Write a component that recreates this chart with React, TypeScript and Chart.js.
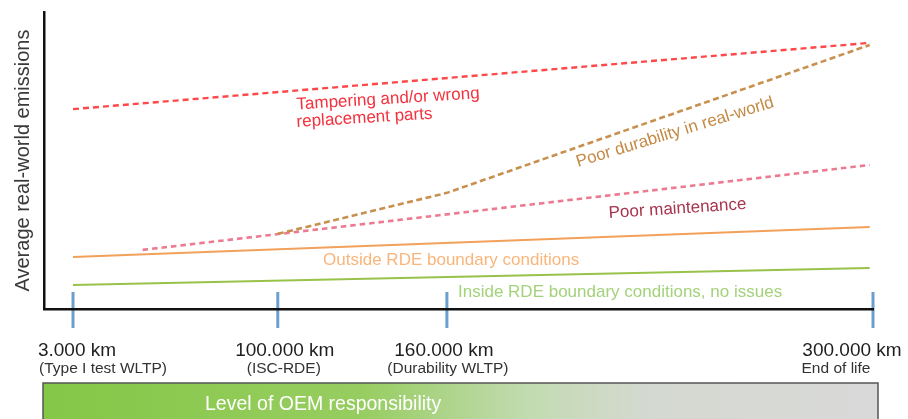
import React, { useEffect, useRef } from "react";
import { Chart, registerables } from "chart.js";

Chart.register(...registerables);

// ---------- data ----------
const yAxisTitle = "Average real-world emissions";
const milestoneLabels = ["3.000 km", "100.000 km", "160.000 km", "300.000 km"];
const milestoneNotes = ["(Type I test WLTP)", "(ISC-RDE)", "(Durability WLTP)", "End of life"];
// conceptual position of each milestone along the mileage axis (0-100)
const milestonePositions = [3.5, 28.2, 48.6, 100];

const insideRDE = [
  { x: 3.5, y: 8.1 },
  { x: 99.6, y: 13.8 },
];
const outsideRDE = [
  { x: 3.5, y: 17.5 },
  { x: 99.6, y: 27.6 },
];
const poorMaintenance = [
  { x: 11.9, y: 19.9 },
  { x: 99.6, y: 48.5 },
];
const poorDurability = [
  { x: 28.2, y: 25.3 },
  { x: 48.6, y: 39.1 },
  { x: 99.6, y: 88.9 },
];
const tampering = [
  { x: 3.5, y: 67.3 },
  { x: 99.6, y: 89.6 },
];

const annotationTexts = [
  "Tampering and/or wrong",
  "replacement parts",
  "Poor durability in real-world",
  "Poor maintenance",
  "Outside RDE boundary conditions",
  "Inside RDE boundary conditions, no issues",
];
// anchor of each annotation in data units (left end of baseline)
const annotationAnchors = [
  { x: 30.5, y: 67.2 },
  { x: 30.5, y: 61.3 },
  { x: 64.4, y: 47.8 },
  { x: 68.15, y: 30.6 },
  { x: 33.66, y: 14.8 },
  { x: 49.94, y: 4.04 },
];
const bannerText = "Level of OEM responsibility";

// ---------- styles ----------
const FONT = '"Liberation Sans", Arial, Helvetica, sans-serif';
const annotationStyles = [
  { color: "#f3323e", rot: -3.5 },
  { color: "#f3323e", rot: -3.5 },
  { color: "#c48a45", rot: -17 },
  { color: "#a8354f", rot: -3.8 },
  { color: "#f9b57a", rot: 0 },
  { color: "#a3d27a", rot: 0 },
];
// horizontal offsets (px) of label centers relative to their tick
const labelOffsets = [
  { main: 4, note: 30 },
  { main: 7, note: 6 },
  { main: -3, note: 1 },
  { main: -21, note: -37 },
];

const overlayPlugin = {
  id: "overlay",
  beforeDraw(chart: any) {
    const { ctx, chartArea } = chart;
    const xs = chart.scales.x;
    ctx.save();
    ctx.strokeStyle = "#6b9fcc";
    ctx.lineWidth = 3;
    milestonePositions.forEach((p) => {
      const px = xs.getPixelForValue(p);
      ctx.beginPath();
      ctx.moveTo(px, chartArea.bottom - 17);
      ctx.lineTo(px, chartArea.bottom + 19);
      ctx.stroke();
    });
    ctx.restore();
  },
  afterDraw(chart: any) {
    const { ctx, chartArea } = chart;
    const xs = chart.scales.x;
    const ys = chart.scales.y;
    ctx.save();

    // y axis title
    ctx.save();
    ctx.translate(chartArea.left - 15, (chartArea.top + chartArea.bottom) / 2);
    ctx.rotate(-Math.PI / 2);
    ctx.font = `20px ${FONT}`;
    ctx.fillStyle = "#3a3a3a";
    ctx.textAlign = "center";
    ctx.textBaseline = "alphabetic";
    ctx.fillText(yAxisTitle, 0, 0);
    ctx.restore();

    // annotations
    annotationTexts.forEach((t, i) => {
      const a = annotationAnchors[i];
      const s = annotationStyles[i];
      ctx.save();
      ctx.translate(xs.getPixelForValue(a.x), ys.getPixelForValue(a.y));
      ctx.rotate((s.rot * Math.PI) / 180);
      ctx.font = `17px ${FONT}`;
      ctx.fillStyle = s.color;
      ctx.textAlign = "left";
      ctx.textBaseline = "alphabetic";
      ctx.fillText(t, 0, 0);
      ctx.restore();
    });

    // milestone labels
    milestonePositions.forEach((p, i) => {
      const px = xs.getPixelForValue(p);
      ctx.textAlign = "center";
      ctx.textBaseline = "alphabetic";
      ctx.font = `19px ${FONT}`;
      ctx.fillStyle = "#1e1e1e";
      ctx.fillText(milestoneLabels[i], px + labelOffsets[i].main, chartArea.bottom + 47);
      ctx.font = `15.5px ${FONT}`;
      ctx.fillStyle = "#333333";
      ctx.fillText(milestoneNotes[i], px + labelOffsets[i].note, chartArea.bottom + 64);
    });

    // responsibility banner
    const bx0 = chartArea.left - 1;
    const bx1 = chartArea.right + 5;
    const by0 = chartArea.bottom + 74;
    const by1 = chart.height + 2;
    const g = ctx.createLinearGradient(bx0, 0, bx1, 0);
    g.addColorStop(0, "#84c747");
    g.addColorStop(0.38, "#97cd60");
    g.addColorStop(0.58, "#c2dbb0");
    g.addColorStop(0.72, "#d4d9d0");
    g.addColorStop(1, "#d9d9d9");
    ctx.fillStyle = g;
    ctx.fillRect(bx0, by0, bx1 - bx0, by1 - by0);
    ctx.strokeStyle = "#555555";
    ctx.lineWidth = 1.5;
    ctx.strokeRect(bx0, by0, bx1 - bx0, by1 - by0);
    ctx.font = `19.5px ${FONT}`;
    ctx.fillStyle = "#ffffff";
    ctx.textAlign = "left";
    ctx.fillText(bannerText, 205, by0 + 27);

    ctx.restore();
  },
};

export default function App() {
  const canvasRef = useRef<HTMLCanvasElement | null>(null);

  useEffect(() => {
    if (!canvasRef.current) return;
    const mk = (data: any[], color: string, width: number, dash: number[] = []) => ({
      data,
      borderColor: color,
      borderWidth: width,
      borderDash: dash,
      pointRadius: 0,
      fill: false,
      tension: 0,
    });
    const axis = {
      type: "linear",
      min: 0,
      max: 100,
      grid: { display: false, drawTicks: false, tickLength: 0 },
      ticks: { display: false, padding: 0 },
      border: { display: true, color: "#111111", width: 2.5 },
    };
    const chart = new Chart(canvasRef.current, {
      type: "line",
      data: {
        datasets: [
          mk(insideRDE, "#98c24a", 2),
          mk(outsideRDE, "#f2a05a", 2),
          mk(poorDurability, "#c8904e", 2.6, [6, 3.5]),
          mk(poorMaintenance, "#ec7a90", 2.6, [5.5, 4]),
          mk(tampering, "#ff4848", 2.4, [6, 4]),
        ],
      },
      options: {
        animation: false,
        responsive: false,
        layout: { padding: { left: 44, top: 12, right: 35, bottom: 110 }, autoPadding: false },
        plugins: { legend: { display: false }, tooltip: { enabled: false } },
        events: [],
        scales: {
          x: { ...axis },
          y: { ...axis },
        },
      } as any,
      plugins: [overlayPlugin],
    });
    return () => chart.destroy();
  }, []);

  return (
    <div style={{ position: "fixed", left: 0, top: 0, width: 908, height: 419, background: "#ffffff" }}>
      <canvas ref={canvasRef} width={908} height={419} style={{ display: "block" }} />
    </div>
  );
}
